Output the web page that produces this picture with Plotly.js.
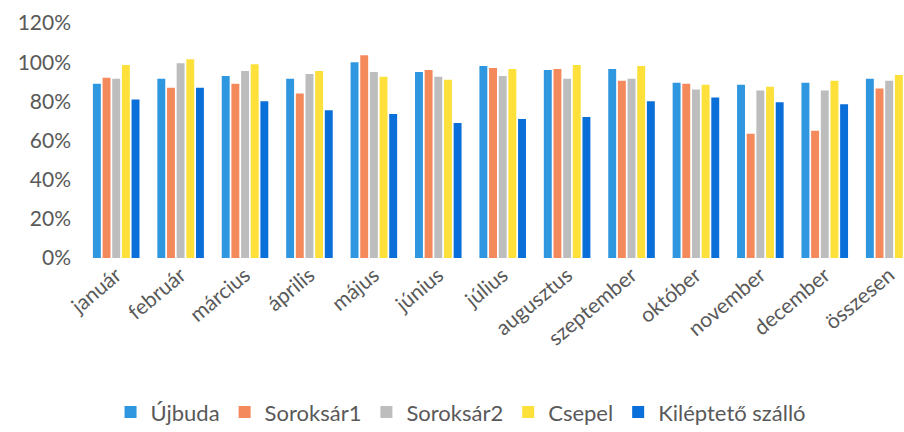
<!DOCTYPE html>
<html>
<head>
<meta charset="utf-8">
<script src="https://cdn.plot.ly/plotly-3.0.1.min.js"></script>
<style>html,body{margin:0;padding:0;background:#fff;}#chart{width:904px;height:432px;}</style>
</head>
<body>
<div id="chart"></div>
<script>
const categories = ["január","február","március","április","május","június","július","augusztus","szeptember","október","november","december","összesen"];
const seriesNames = ["Újbuda","Soroksár1","Soroksár2","Csepel","Kiléptető szálló"];
const ujbuda      = [89, 91.5, 93, 91.5, 100, 95, 98, 96, 96.5, 89.5, 88.5, 89.5, 91.5];
const soroksar1   = [92, 87, 89, 84, 103.5, 96, 97, 96.5, 90.5, 89, 63.5, 65, 86.5];
const soroksar2   = [91.5, 99.5, 95.5, 94, 95, 92.5, 93, 91.5, 91.5, 86, 85.5, 85.5, 90.5];
const csepel      = [98.5, 101.5, 99, 95.5, 92.5, 91, 96.5, 98.5, 98, 88.5, 87.5, 90.5, 93.5];
const kilepteto   = [81, 87, 80, 75.5, 73.5, 69, 71, 72, 80, 82, 79.5, 78.5, 77];
const colors = ["#2f97e0","#f4895c","#bdbdbd","#fde13a","#0a6fd8"];

const allSeries = [ujbuda, soroksar1, soroksar2, csepel, kilepteto];
const data = allSeries.map((vals, i) => ({
  type: "bar",
  name: seriesNames[i],
  x: categories,
  y: vals,
  marker: {color: colors[i]},
  hoverinfo: "x+y+name"
}));

const layout = {
  width: 904, height: 432,
  paper_bgcolor: "#ffffff", plot_bgcolor: "#ffffff",
  margin: {l: 84, r: 0, t: 23, b: 174},
  barmode: "group",
  bargap: 0.25,
  bargroupgap: 0.18,
  font: {family: "Lato, 'Open Sans', sans-serif", color: "#595959", size: 21},
  xaxis: {
    type: "category",
    range: [-0.5, 12.23],
    tickangle: -40,
    showline: false, zeroline: false, showgrid: false,
    ticks: "", ticklen: 0,
    tickfont: {size: 21, color: "#595959"}
  },
  yaxis: {
    range: [0, 120],
    dtick: 20,
    ticksuffix: "%",
    showgrid: false, zeroline: false, showline: false,
    tickfont: {size: 21, color: "#595959"},
    ticklabelstandoff: 12
  },
  showlegend: true,
  legend: {
    orientation: "h",
    xref: "container", yref: "container",
    x: 0.51, xanchor: "center",
    y: 0.046, yanchor: "middle",
    font: {size: 22, color: "#595959"},
    itemwidth: 30,
    traceorder: "normal"
  }
};

Plotly.newPlot("chart", data, layout, {displayModeBar: false, staticPlot: true});
</script>
</body>
</html>
